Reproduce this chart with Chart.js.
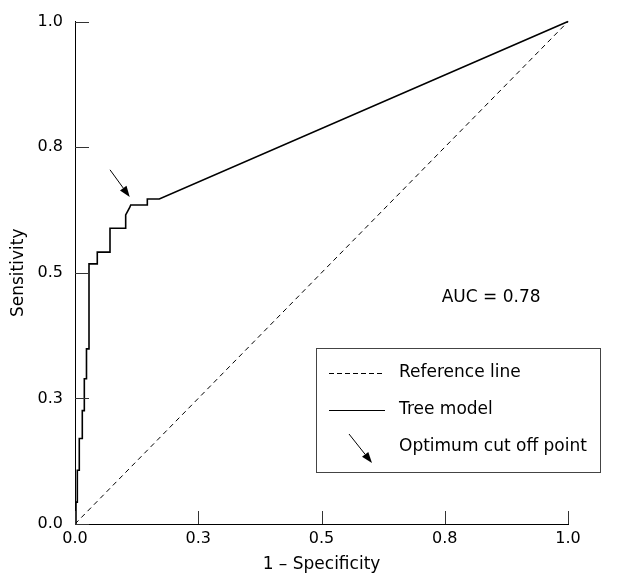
<!DOCTYPE html>
<html><head><meta charset="utf-8">
<script src="https://cdn.jsdelivr.net/npm/chart.js@4/dist/chart.umd.min.js"></script>
<style>html,body{margin:0;padding:0;background:#fff}#wrap{width:618px;height:580px}</style>
</head><body><div id="wrap"><canvas id="c" width="618" height="580"></canvas></div>
<script>
// ROC curve vertices (1 - specificity, sensitivity)
const fpr = [0, 0.002, 0.002, 0.0047, 0.0047, 0.0087, 0.0087, 0.0148, 0.0148, 0.0189, 0.0189, 0.0233, 0.0233, 0.0284, 0.0284, 0.0452, 0.0452, 0.0710, 0.0710, 0.1028, 0.1028, 0.1075, 0.1110, 0.1130, 0.1467, 0.1467, 0.1710, 1.0];
const tpr = [0, 0, 0.0436, 0.0436, 0.1069, 0.1069, 0.1703, 0.1703, 0.2257, 0.2257, 0.2891, 0.2891, 0.3485, 0.3485, 0.5178, 0.5178, 0.5412, 0.5412, 0.5887, 0.5887, 0.6152, 0.6238, 0.6300, 0.6350, 0.6350, 0.6469, 0.6469, 1.0];
const refX = [0, 1];
const refY = [0, 1];
const tickValues = [0, 0.25, 0.5, 0.75, 1];
const tickLabels = ['0.0', '0.3', '0.5', '0.8', '1.0'];
const xTitle = '1 \u2013 Specificity';
const yTitle = 'Sensitivity';
const aucText = 'AUC = 0.78';
const aucPos = [0.844, 0.45];
const arrowTail = [0.071, 0.705];
const arrowHead = [0.111, 0.651];
const legendLabels = ['Reference line', 'Tree model', 'Optimum cut off point'];

const FONT = '"DejaVu Sans", sans-serif';
const FS = 17;
const TFS = 16;

function drawArrow(ctx, x1, y1, x2, y2) {
  const ang = Math.atan2(y2 - y1, x2 - x1);
  const L = 11, W = 4;
  const bx = x2 - L * Math.cos(ang), by = y2 - L * Math.sin(ang);
  ctx.beginPath();
  ctx.moveTo(x1, y1); ctx.lineTo(bx, by); ctx.stroke();
  ctx.beginPath();
  ctx.moveTo(x2, y2);
  ctx.lineTo(bx + W * Math.sin(ang), by - W * Math.cos(ang));
  ctx.lineTo(bx - W * Math.sin(ang), by + W * Math.cos(ang));
  ctx.closePath(); ctx.fill();
}

const extras = {
  id: 'extras',
  afterDraw(chart) {
    const ctx = chart.ctx, xs = chart.scales.x, ys = chart.scales.y;
    ctx.save();
    // inward ticks
    ctx.strokeStyle = '#333'; ctx.lineWidth = 1;
    tickValues.forEach(v => {
      const px = Math.round(xs.getPixelForValue(v)) + 0.5;
      ctx.beginPath(); ctx.moveTo(px, ys.bottom); ctx.lineTo(px, ys.bottom - 13); ctx.stroke();
      const py = Math.round(ys.getPixelForValue(v)) + 0.5;
      ctx.beginPath(); ctx.moveTo(xs.left, py); ctx.lineTo(xs.left + 14, py); ctx.stroke();
    });
    // arrow annotation
    ctx.strokeStyle = '#000'; ctx.fillStyle = '#000'; ctx.lineWidth = 1;
    drawArrow(ctx, xs.getPixelForValue(arrowTail[0]), ys.getPixelForValue(arrowTail[1]),
                   xs.getPixelForValue(arrowHead[0]), ys.getPixelForValue(arrowHead[1]));
    // AUC text
    ctx.font = FS + 'px ' + FONT; ctx.textAlign = 'center'; ctx.textBaseline = 'middle';
    ctx.fillText(aucText, xs.getPixelForValue(aucPos[0]), ys.getPixelForValue(aucPos[1]));
    // legend box
    const bx = 316.5, by = 348.5, bw = 284, bh = 124;
    ctx.strokeStyle = '#444'; ctx.lineWidth = 1;
    ctx.strokeRect(bx, by, bw, bh);
    const rows = [373, 410, 447];
    ctx.strokeStyle = '#000';
    ctx.setLineDash([5, 3]);
    ctx.beginPath(); ctx.moveTo(329, rows[0] + 0.5); ctx.lineTo(385, rows[0] + 0.5); ctx.stroke();
    ctx.setLineDash([]);
    ctx.lineWidth = 1.2;
    ctx.beginPath(); ctx.moveTo(329, rows[1] + 0.5); ctx.lineTo(385, rows[1] + 0.5); ctx.stroke();
    ctx.lineWidth = 1;
    drawArrow(ctx, 349, 434, 372, 463);
    ctx.textAlign = 'left'; ctx.fillStyle = '#000';
    legendLabels.forEach((t, i) => ctx.fillText(t, 399, rows[i]));
    ctx.restore();
  }
};

new Chart(document.getElementById('c'), {
  type: 'line',
  data: {
    datasets: [
      {
        label: 'Reference line',
        data: refX.map((x, i) => ({x: x, y: refY[i]})),
        borderColor: '#000', borderWidth: 1, borderDash: [5, 4],
        pointRadius: 0, fill: false, tension: 0, clip: false
      },
      {
        label: 'Tree model',
        data: fpr.map((x, i) => ({x: x, y: tpr[i]})),
        borderColor: '#000', borderWidth: 1.6,
        pointRadius: 0, fill: false, tension: 0, clip: false
      }
    ]
  },
  options: {
    responsive: false, animation: false, devicePixelRatio: 1,
    layout: {padding: {top: 19, right: 50, left: 0, bottom: 0}},
    plugins: {legend: {display: false}, tooltip: {enabled: false}},
    scales: {
      x: {
        type: 'linear', min: 0, max: 1,
        afterBuildTicks: s => { s.ticks = tickValues.map(v => ({value: v})); },
        afterFit: s => { s.height = 56; },
        grid: {display: false, drawTicks: false},
        border: {display: true, color: '#000', width: 1},
        ticks: {callback: (v, i) => tickLabels[i], color: '#000', padding: 5, maxRotation: 0, font: {family: FONT, size: TFS}},
        title: {display: true, text: xTitle, color: '#000', padding: {top: 0, bottom: 5}, font: {family: FONT, size: FS}}
      },
      y: {
        type: 'linear', min: 0, max: 1,
        afterBuildTicks: s => { s.ticks = tickValues.map(v => ({value: v})); },
        afterFit: s => { s.width = 75; },
        grid: {display: false, drawTicks: false},
        border: {display: true, color: '#000', width: 1},
        ticks: {callback: (v, i) => tickLabels[i], color: '#000', padding: 12, font: {family: FONT, size: TFS}},
        title: {display: true, text: yTitle, color: '#000', padding: {top: 8, bottom: 0}, font: {family: FONT, size: FS}}
      }
    }
  },
  plugins: [extras]
});
</script></body></html>
